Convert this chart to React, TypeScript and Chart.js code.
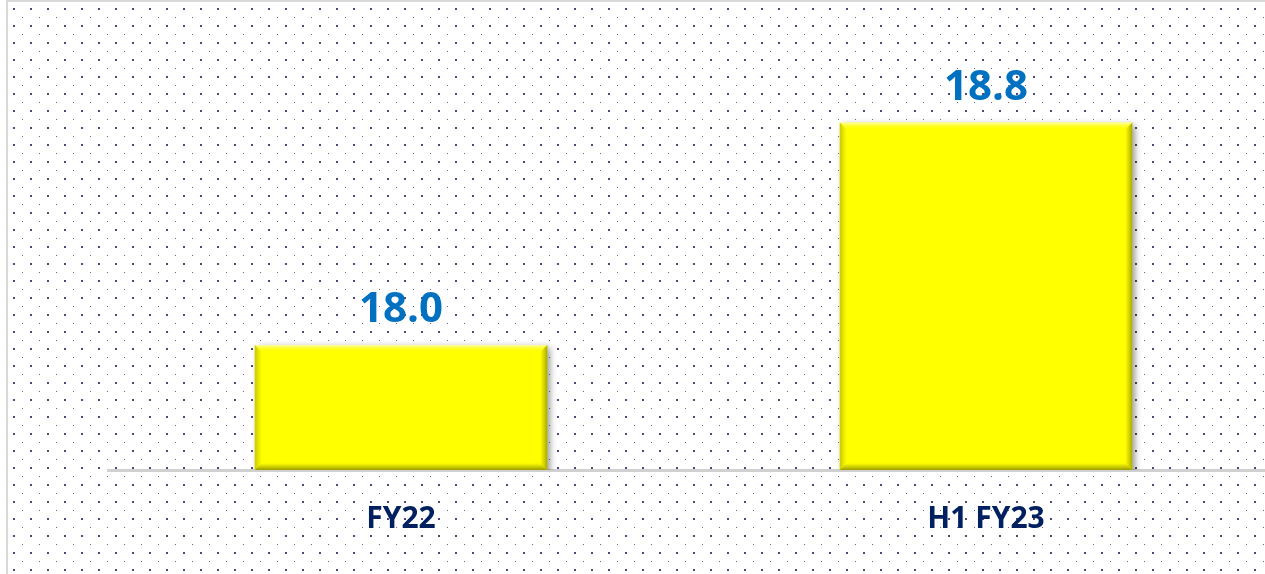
import React, { useEffect, useRef } from "react";
import { Chart, registerables } from "chart.js";

Chart.register(...registerables);

const categories = ["FY22", "H1 FY23"];
const values = [18.0, 18.8];
const valueLabels = ["18.0", "18.8"];
const yMin = 17.55;
const yMax = 19.0;

const FONT = "'Open Sans', 'Noto Sans', sans-serif";

const backgroundPlugin = {
  id: "dottedBg",
  beforeDraw(chart: any) {
    const ctx = chart.ctx;
    const w = chart.width;
    const h = chart.height;
    ctx.save();
    ctx.fillStyle = "#ffffff";
    ctx.fillRect(0, 0, w, h);
    // large dots
    ctx.fillStyle = "#54447e";
    for (let y = 8; y < h; y += 17) {
      for (let x = 13; x < w; x += 17) {
        ctx.fillRect(x, y, 2, 2);
      }
    }
    // small dots
    ctx.fillStyle = "#6f6196";
    for (let y = 17; y < h; y += 17) {
      for (let x = 22; x < w; x += 17) {
        ctx.fillRect(x, y, 1, 1);
      }
    }
    // outer border
    ctx.strokeStyle = "#d9d9d9";
    ctx.lineWidth = 2;
    ctx.beginPath();
    ctx.moveTo(7, h + 5);
    ctx.lineTo(7, 1);
    ctx.lineTo(w + 5, 1);
    ctx.stroke();
    ctx.restore();
  },
};

const barStylePlugin = {
  id: "barStyle",
  beforeDatasetsDraw(chart: any) {
    const ctx = chart.ctx;
    ctx.save();
    ctx.shadowColor = "rgba(0,0,0,0.45)";
    ctx.shadowBlur = 7;
    ctx.shadowOffsetX = 3;
    ctx.shadowOffsetY = 2;
  },
  afterDatasetsDraw(chart: any) {
    const ctx = chart.ctx;
    ctx.restore();
    const area = chart.chartArea;
    const meta = chart.getDatasetMeta(0);
    meta.data.forEach((bar: any, i: number) => {
      const { x, y, base, width } = bar.getProps(["x", "y", "base", "width"], true);
      const l = x - width / 2;
      const r = x + width / 2;
      const t = y;
      const b = Math.min(base, area.bottom);
      const e = 7;
      ctx.save();
      // top highlight
      let g = ctx.createLinearGradient(0, t, 0, t + e);
      g.addColorStop(0, "rgba(255,255,190,0.9)");
      g.addColorStop(1, "rgba(255,255,0,0)");
      ctx.fillStyle = g;
      ctx.beginPath();
      ctx.moveTo(l, t);
      ctx.lineTo(r, t);
      ctx.lineTo(r - e, t + e);
      ctx.lineTo(l + e, t + e);
      ctx.closePath();
      ctx.fill();
      // right edge dark
      g = ctx.createLinearGradient(r - e, 0, r, 0);
      g.addColorStop(0, "rgba(150,150,0,0)");
      g.addColorStop(1, "rgba(140,140,0,0.75)");
      ctx.fillStyle = g;
      ctx.beginPath();
      ctx.moveTo(r, t);
      ctx.lineTo(r, b);
      ctx.lineTo(r - e, b - e);
      ctx.lineTo(r - e, t + e);
      ctx.closePath();
      ctx.fill();
      // left edge
      g = ctx.createLinearGradient(l, 0, l + e, 0);
      g.addColorStop(0, "rgba(160,160,0,0.55)");
      g.addColorStop(1, "rgba(160,160,0,0)");
      ctx.fillStyle = g;
      ctx.beginPath();
      ctx.moveTo(l, t);
      ctx.lineTo(l + e, t + e);
      ctx.lineTo(l + e, b - e);
      ctx.lineTo(l, b);
      ctx.closePath();
      ctx.fill();
      // bottom edge
      g = ctx.createLinearGradient(0, b - e, 0, b);
      g.addColorStop(0, "rgba(150,150,0,0)");
      g.addColorStop(1, "rgba(130,130,0,0.8)");
      ctx.fillStyle = g;
      ctx.beginPath();
      ctx.moveTo(l, b);
      ctx.lineTo(r, b);
      ctx.lineTo(r - e, b - e);
      ctx.lineTo(l + e, b - e);
      ctx.closePath();
      ctx.fill();
      // value label
      ctx.fillStyle = "#0070C0";
      ctx.font = `bold 42px ${FONT}`;
      ctx.textAlign = "center";
      ctx.textBaseline = "alphabetic";
      ctx.fillText(valueLabels[i], x, t - 23);
      ctx.restore();
    });
  },
};

export default function App() {
  const ref = useRef<HTMLCanvasElement | null>(null);
  useEffect(() => {
    if (!ref.current) return;
    const chart = new Chart(ref.current, {
      type: "bar",
      data: {
        labels: categories,
        datasets: [
          {
            data: values,
            backgroundColor: "#ffff00",
            borderWidth: 0,
            categoryPercentage: 0.5,
            barPercentage: 1.0,
          },
        ],
      },
      options: {
        responsive: false,
        animation: false,
        devicePixelRatio: 1,
        layout: { padding: { left: 108.5, right: 11.5, top: 67, bottom: 0 } },
        plugins: {
          legend: { display: false },
          tooltip: { enabled: false },
        },
        scales: {
          x: {
            grid: { display: false, drawTicks: false },
            border: { display: true, color: "#d0d0d0", width: 3 },
            ticks: {
              color: "#002060",
              font: { family: FONT, size: 30, weight: "bold" },
              padding: 31,
            },
            afterFit(scale: any) {
              scale.height = 104;
            },
          },
          y: {
            display: false,
            min: yMin,
            max: yMax,
          },
        },
      },
      plugins: [backgroundPlugin, barStylePlugin],
    });
    return () => chart.destroy();
  }, []);
  return (
    <div
      style={{
        position: "fixed",
        left: 0,
        top: 0,
        width: 1265,
        height: 574,
        overflow: "hidden",
      }}
    >
      <canvas ref={ref} width={1290} height={574} style={{ display: "block" }} />
    </div>
  );
}
